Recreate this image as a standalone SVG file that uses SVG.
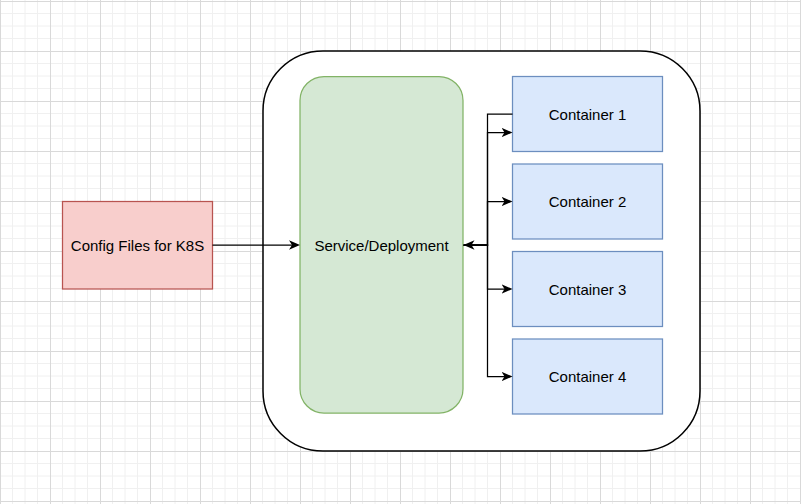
<svg xmlns="http://www.w3.org/2000/svg" width="801" height="504" viewBox="0 0 801 504">
  <defs>
    <pattern id="grid" patternUnits="userSpaceOnUse" x="0" y="1" width="50" height="50">
      <path d="M12.5,0 V50 M25,0 V50 M37.5,0 V50 M0,12.5 H50 M0,25 H50 M0,37.5 H50" stroke="#f0f0f0" stroke-width="1" fill="none"/>
      <path d="M0.5,0 V50 M0,0.5 H50" stroke="#d9d9d9" stroke-width="1" fill="none"/>
    </pattern>
    <marker id="arrow" viewBox="0 0 11 10" refX="8" refY="5" markerWidth="11" markerHeight="10" markerUnits="userSpaceOnUse" orient="auto">
      <path d="M0,0.3 L11,5 L0,9.7 L3,5 Z" fill="#000"/>
    </marker>
    <style>
      .lbl { font-family: "Liberation Sans", Arial, sans-serif; font-size: 15px; fill: #000; text-anchor: middle; dominant-baseline: central; }
      .edge { fill: none; stroke: #000; stroke-width: 1.25; }
      .blue { fill: #dae8fc; stroke: #6c8ebf; stroke-width: 1.25; }
    </style>
  </defs>
  <rect width="801" height="504" fill="#ffffff"/>
  <rect width="801" height="504" fill="url(#grid)"/>

  <g id="cluster">
    <rect x="263" y="51" width="437" height="400" rx="60" ry="60" fill="#ffffff" stroke="#000" stroke-width="1.5"/>
  </g>

  <g id="config">
    <rect x="62.5" y="201.5" width="150" height="87.5" fill="#f8cecc" stroke="#b85450" stroke-width="1.25"/>
    <text class="lbl" x="137.5" y="245">Config Files for K8S</text>
  </g>

  <g id="service">
    <rect x="300" y="76.5" width="163" height="336.5" rx="24" ry="24" fill="#d5e8d4" stroke="#82b366" stroke-width="1.25"/>
    <text class="lbl" x="381.5" y="245">Service/Deployment</text>
  </g>

  <g id="container1">
    <rect class="blue" x="512.5" y="76.5" width="150" height="75"/>
    <text class="lbl" x="587.5" y="114">Container 1</text>
  </g>
  <g id="container2">
    <rect class="blue" x="512.5" y="164" width="150" height="75"/>
    <text class="lbl" x="587.5" y="201.5">Container 2</text>
  </g>
  <g id="container3">
    <rect class="blue" x="512.5" y="251.5" width="150" height="75"/>
    <text class="lbl" x="587.5" y="289">Container 3</text>
  </g>
  <g id="container4">
    <rect class="blue" x="512.5" y="339" width="150" height="75"/>
    <text class="lbl" x="587.5" y="376.5">Container 4</text>
  </g>

  <g id="connectors">
    <path class="edge" d="M212.5,245 H297" marker-end="url(#arrow)"/>
    <path class="edge" d="M512.5,114 H487.5 V245 H466.5" marker-end="url(#arrow)"/>
    <path class="edge" d="M463.5,245 H487.5 V132.5 H509.5" marker-end="url(#arrow)"/>
    <path class="edge" d="M463.5,245 H487.5 V201.5 H509.5" marker-end="url(#arrow)"/>
    <path class="edge" d="M463.5,245 H487.5 V289 H509.5" marker-end="url(#arrow)"/>
    <path class="edge" d="M463.5,245 H487.5 V376.5 H509.5" marker-end="url(#arrow)"/>
  </g>
</svg>
